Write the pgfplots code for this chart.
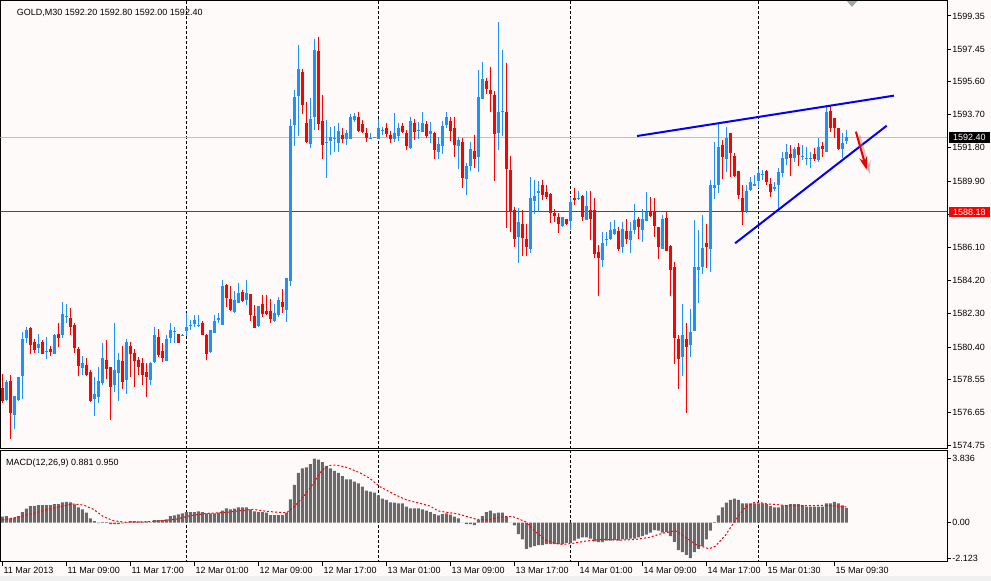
\documentclass[border=0pt]{standalone}
\usepackage{fontspec}
\setmainfont{Liberation Sans}
\usepackage{pgfplots}
\pgfplotsset{compat=1.18}
\usepackage{pgfplotstable}
\usetikzlibrary{arrows.meta}
\definecolor{bg}{RGB}{255,250,250}
\definecolor{cblue}{RGB}{30,144,255}
\definecolor{cred}{RGB}{255,0,0}
\definecolor{arrowred}{RGB}{235,0,0}
\definecolor{macdgray}{RGB}{105,105,105}
\definecolor{tline}{RGB}{0,0,255}
\definecolor{silverline}{RGB}{192,192,192}
\newcommand\lab{\fontsize{9}{10.8}\selectfont}

\pgfplotstableread{
i o h l c
0 1578.08 1578.86 1577.18 1577.34
1 1577.41 1578.52 1577.34 1578.40
2 1578.48 1578.80 1575.16 1576.65
3 1576.53 1577.62 1575.73 1577.60
4 1577.37 1578.70 1577.32 1578.67
5 1578.75 1581.27 1577.45 1580.85
6 1580.94 1581.53 1580.66 1581.38
7 1581.49 1581.57 1580.03 1580.54
8 1580.69 1580.87 1580.04 1580.24
9 1580.37 1581.15 1580.08 1580.58
10 1580.69 1580.81 1580.01 1580.03
11 1580.14 1580.96 1579.72 1580.18
12 1580.29 1580.46 1579.87 1580.14
13 1580.03 1581.13 1580.01 1581.09
14 1581.17 1581.76 1580.43 1580.94
15 1581.13 1582.98 1580.90 1582.30
16 1582.16 1582.87 1581.80 1582.20
17 1582.07 1582.62 1581.11 1581.53
18 1581.69 1581.76 1580.04 1580.37
19 1580.31 1580.43 1578.77 1579.34
20 1579.21 1579.89 1578.80 1579.47
21 1579.38 1579.76 1578.75 1578.82
22 1578.98 1579.09 1577.28 1577.32
23 1577.45 1578.67 1576.46 1577.72
24 1577.56 1579.24 1577.18 1578.48
25 1578.37 1580.62 1578.21 1579.78
26 1579.66 1580.81 1578.56 1579.15
27 1579.26 1579.28 1576.23 1578.14
28 1578.25 1581.76 1577.85 1579.09
29 1578.94 1580.08 1577.32 1579.66
30 1579.61 1580.46 1577.98 1578.42
31 1578.52 1580.88 1577.72 1580.69
32 1580.46 1580.67 1578.70 1580.00
33 1580.04 1580.27 1578.09 1579.60
34 1579.66 1579.81 1578.80 1579.24
35 1579.50 1579.75 1578.22 1578.80
36 1578.99 1579.50 1577.56 1578.66
37 1578.55 1579.56 1578.22 1579.50
38 1579.56 1581.56 1579.47 1581.09
39 1580.99 1581.41 1579.85 1579.94
40 1580.19 1580.61 1579.56 1579.75
41 1579.62 1581.09 1579.60 1580.88
42 1580.93 1581.76 1580.61 1581.37
43 1581.26 1581.53 1580.61 1581.30
44 1581.15 1581.17 1580.63 1580.65
45 1581.09 1581.13 1581.05 1581.11
46 1581.34 1582.33 1581.05 1581.53
47 1581.62 1581.95 1581.38 1581.68
48 1581.72 1582.22 1581.53 1581.95
49 1581.62 1582.22 1581.53 1581.66
50 1581.80 1581.91 1581.07 1581.11
51 1581.11 1581.13 1579.66 1580.00
52 1580.12 1581.40 1580.04 1581.38
53 1581.22 1582.26 1581.19 1581.91
54 1581.98 1582.33 1581.76 1582.04
55 1581.66 1584.24 1581.64 1583.90
56 1583.97 1583.99 1582.71 1583.19
57 1583.15 1583.90 1582.47 1582.52
58 1582.41 1583.63 1582.33 1583.09
59 1582.94 1584.05 1582.90 1583.51
60 1583.55 1583.67 1583.00 1583.06
61 1583.13 1584.24 1582.81 1583.48
62 1583.44 1583.46 1581.91 1582.24
63 1582.20 1582.81 1581.47 1581.51
64 1581.61 1582.77 1581.57 1582.75
65 1582.87 1583.38 1582.14 1582.29
66 1582.48 1583.38 1582.24 1582.29
67 1582.48 1583.13 1581.76 1581.99
68 1581.91 1582.87 1581.85 1582.37
69 1582.24 1583.29 1582.14 1583.09
70 1583.00 1583.71 1582.33 1582.67
71 1582.52 1584.37 1581.85 1584.35
72 1584.20 1593.47 1583.90 1593.05
73 1593.11 1595.11 1591.91 1594.73
74 1594.77 1597.67 1592.48 1596.30
75 1596.16 1596.30 1593.74 1594.25
76 1593.21 1594.43 1592.08 1592.12
77 1592.02 1594.64 1591.77 1593.43
78 1593.59 1598.05 1592.82 1597.40
79 1597.35 1598.17 1592.82 1593.19
80 1593.34 1594.83 1591.18 1591.98
81 1592.08 1593.40 1590.10 1592.12
82 1592.21 1593.01 1591.39 1592.40
83 1592.33 1593.05 1591.58 1592.37
84 1592.10 1593.21 1591.58 1592.77
85 1592.52 1592.92 1592.06 1592.31
86 1592.35 1592.82 1591.96 1592.63
87 1592.33 1593.74 1592.31 1593.57
88 1593.43 1593.82 1593.30 1593.62
89 1593.55 1593.87 1592.73 1592.77
90 1593.15 1593.40 1592.63 1592.71
91 1592.63 1592.92 1592.16 1592.38
92 1592.33 1592.67 1592.29 1592.37
93 1592.38 1592.44 1592.35 1592.40
94 1592.35 1593.43 1592.33 1592.92
95 1592.80 1593.01 1592.54 1592.84
96 1592.94 1593.21 1592.44 1592.59
97 1592.54 1592.79 1592.10 1592.33
98 1592.35 1593.82 1592.16 1592.63
99 1592.50 1593.21 1592.21 1592.92
100 1593.05 1593.21 1592.67 1592.73
101 1592.63 1592.82 1591.68 1591.91
102 1591.81 1593.59 1591.72 1593.32
103 1593.24 1593.47 1592.25 1592.73
104 1592.79 1593.27 1592.31 1592.83
105 1592.73 1593.84 1592.69 1593.21
106 1593.15 1593.34 1592.39 1592.50
107 1592.60 1593.27 1592.10 1592.77
108 1592.64 1592.73 1591.17 1591.68
109 1591.59 1592.41 1591.17 1592.01
110 1591.93 1593.34 1591.43 1593.06
111 1593.11 1593.84 1592.92 1593.55
112 1593.34 1593.59 1592.20 1592.79
113 1592.92 1593.59 1591.30 1591.97
114 1591.93 1592.45 1590.60 1592.24
115 1592.14 1592.39 1589.49 1590.06
116 1590.02 1590.92 1589.11 1590.77
117 1590.79 1592.16 1590.48 1591.74
118 1591.63 1592.54 1590.63 1591.17
119 1591.30 1596.26 1590.44 1594.72
120 1594.60 1596.74 1594.58 1595.75
121 1595.63 1595.78 1594.91 1595.17
122 1595.12 1596.45 1593.88 1594.89
123 1594.85 1595.06 1589.93 1592.62
124 1592.69 1598.99 1591.68 1593.84
125 1593.88 1597.41 1592.50 1593.91
126 1593.86 1596.68 1587.24 1590.60
127 1590.54 1591.36 1587.01 1588.11
128 1588.25 1588.44 1586.15 1586.59
129 1586.70 1588.38 1585.20 1587.58
130 1587.45 1588.25 1585.63 1586.63
131 1586.59 1587.43 1585.62 1586.11
132 1586.03 1590.12 1585.77 1588.94
133 1588.80 1589.97 1588.04 1589.05
134 1589.22 1589.91 1588.11 1589.34
135 1589.68 1589.98 1588.82 1589.11
136 1589.28 1589.68 1588.86 1589.01
137 1589.17 1589.19 1587.49 1588.06
138 1588.10 1588.29 1587.58 1587.91
139 1587.87 1588.10 1586.91 1587.43
140 1587.33 1587.85 1587.26 1587.83
141 1587.72 1587.74 1587.39 1587.43
142 1587.64 1589.01 1587.11 1588.73
143 1588.94 1589.49 1588.52 1588.82
144 1588.88 1589.36 1588.82 1588.92
145 1589.05 1589.11 1587.64 1587.83
146 1587.72 1589.36 1587.70 1588.48
147 1588.25 1589.36 1586.53 1587.72
148 1588.25 1588.92 1585.48 1585.73
149 1585.85 1586.25 1583.33 1585.48
150 1585.39 1587.01 1585.01 1586.38
151 1586.55 1587.01 1586.19 1586.59
152 1586.63 1587.58 1586.50 1587.11
153 1586.91 1587.68 1586.80 1587.14
154 1587.07 1587.30 1585.92 1586.02
155 1586.15 1587.58 1585.77 1587.18
156 1587.05 1587.72 1586.30 1586.59
157 1586.53 1587.58 1585.77 1587.05
158 1587.11 1588.57 1586.88 1587.68
159 1587.74 1587.87 1586.59 1587.26
160 1587.11 1588.29 1586.42 1587.72
161 1587.64 1589.28 1587.62 1588.12
162 1588.14 1588.98 1587.87 1587.91
163 1588.14 1588.92 1586.72 1587.33
164 1587.26 1587.30 1585.43 1586.15
165 1586.02 1587.95 1586.00 1587.75
166 1587.77 1588.15 1585.88 1585.92
167 1586.19 1586.24 1583.33 1584.81
168 1585.00 1585.29 1579.43 1580.90
169 1580.85 1581.09 1577.98 1579.72
170 1579.85 1582.87 1578.75 1581.09
171 1580.85 1581.76 1576.61 1580.43
172 1580.56 1582.58 1579.85 1581.27
173 1581.34 1587.68 1581.32 1584.99
174 1584.81 1587.10 1582.94 1584.99
175 1585.00 1587.96 1584.59 1586.07
176 1586.36 1587.45 1584.91 1586.15
177 1586.04 1589.97 1584.72 1589.68
178 1589.53 1592.14 1588.90 1589.68
179 1589.70 1593.21 1589.20 1591.87
180 1591.97 1592.26 1590.00 1591.30
181 1591.17 1592.98 1590.44 1592.35
182 1592.64 1592.67 1590.12 1591.53
183 1591.34 1591.49 1590.16 1590.21
184 1590.48 1590.50 1588.86 1589.11
185 1588.94 1589.68 1587.39 1588.15
186 1588.21 1589.68 1588.06 1589.34
187 1589.39 1590.12 1589.36 1589.83
188 1589.66 1590.25 1589.62 1589.72
189 1589.93 1590.58 1589.49 1590.39
190 1590.25 1590.53 1589.96 1590.32
191 1590.48 1590.53 1589.68 1589.87
192 1589.75 1590.06 1589.01 1589.29
193 1589.45 1589.87 1589.33 1589.56
194 1589.71 1590.63 1588.15 1590.40
195 1590.40 1591.58 1590.15 1591.20
196 1591.16 1592.00 1590.82 1591.55
197 1591.43 1591.97 1590.21 1591.20
198 1591.24 1591.87 1590.97 1591.74
199 1591.85 1592.06 1590.78 1591.39
200 1591.30 1591.97 1591.11 1591.34
201 1591.18 1591.87 1590.82 1591.22
202 1591.18 1591.58 1590.63 1591.22
203 1591.43 1591.81 1591.05 1591.16
204 1591.11 1592.39 1591.01 1591.87
205 1591.93 1592.12 1591.30 1591.74
206 1591.58 1594.16 1591.56 1593.87
207 1593.91 1594.26 1592.73 1592.96
208 1593.49 1593.53 1592.35 1592.92
209 1592.92 1592.96 1591.68 1591.74
210 1591.77 1592.63 1591.20 1592.06
211 1592.20 1592.80 1592.00 1592.40
}\candles

\pgfplotstableread{
i m
0 0.36
1 0.40
2 0.26
3 0.30
4 0.40
5 0.64
6 0.84
7 1.00
8 1.00
9 1.06
10 1.06
11 1.06
12 1.06
13 1.12
14 1.12
15 1.22
16 1.24
17 1.22
18 1.10
19 0.92
20 0.80
21 0.60
22 0.26
23 0.10
24 -0.02
25 0.04
26 0.04
27 -0.08
28 -0.08
29 -0.08
30 -0.04
31 0.04
32 0.10
33 0.10
34 0.08
35 0.06
36 0.08
37 0.02
38 0.16
39 0.16
40 0.16
41 0.20
42 0.40
43 0.44
44 0.50
45 0.56
46 0.64
47 0.64
48 0.64
49 0.68
50 0.64
51 0.56
52 0.56
53 0.56
54 0.60
55 0.72
56 0.86
57 0.80
58 0.84
59 0.92
60 0.92
61 0.92
62 0.80
63 0.68
64 0.64
65 0.64
66 0.60
67 0.46
68 0.46
69 0.46
70 0.46
71 0.60
72 1.40
73 2.26
74 2.99
75 3.25
76 3.31
77 3.51
78 3.84
79 3.78
80 3.63
81 3.41
82 3.25
83 3.11
84 2.99
85 2.79
86 2.59
87 2.59
88 2.46
89 2.36
90 2.16
91 1.92
92 1.86
93 1.80
94 1.64
95 1.44
96 1.36
97 1.22
98 1.20
99 1.16
100 1.16
101 0.96
102 0.86
103 0.86
104 0.86
105 0.80
106 0.72
107 0.64
108 0.52
109 0.44
110 0.52
111 0.56
112 0.48
113 0.36
114 0.26
115 0.01
116 -0.08
117 -0.08
118 -0.14
119 0.16
120 0.40
121 0.64
122 0.72
123 0.56
124 0.60
125 0.60
126 0.36
127 0.01
128 -0.16
129 -0.68
130 -1.00
131 -1.56
132 -1.48
133 -1.40
134 -1.34
135 -1.34
136 -1.28
137 -1.28
138 -1.28
139 -1.28
140 -1.28
141 -1.20
142 -1.20
143 -1.08
144 -0.96
145 -0.88
146 -0.88
147 -0.96
148 -1.12
149 -1.16
150 -1.16
151 -1.08
152 -1.08
153 -1.04
154 -1.08
155 -1.00
156 -1.00
157 -0.96
158 -0.96
159 -0.88
160 -0.80
161 -0.72
162 -0.60
163 -0.44
164 -0.48
165 -0.60
166 -0.56
167 -0.80
168 -1.14
169 -1.64
170 -1.76
171 -1.92
172 -2.12
173 -1.76
174 -1.56
175 -1.40
176 -1.00
177 -0.48
178 0.04
179 0.44
180 0.92
181 1.20
182 1.36
183 1.44
184 1.36
185 1.16
186 1.16
187 1.16
188 1.16
189 1.16
190 1.16
191 1.12
192 1.00
193 0.92
194 0.92
195 1.04
196 1.06
197 1.12
198 1.12
199 1.12
200 1.06
201 0.96
202 0.96
203 0.96
204 0.96
205 0.96
206 1.16
207 1.16
208 1.24
209 1.16
210 1.04
211 0.88
}\macd

\pgfplotsset{
  wickstyle/.style={only marks, mark=*, mark size=0pt, mark options={draw=none, fill=none}, forget plot,
    error bars/y dir=minus, error bars/y explicit, error bars/error mark=none,
    error bars/error bar style={draw=#1, line width=1pt}},
  bodystyle/.style={only marks, mark=*, mark size=0pt, mark options={draw=none, fill=none}, forget plot,
    error bars/y dir=minus, error bars/y explicit, error bars/error mark=none,
    error bars/error bar style={draw=#1, line width=3pt}},
  sepline/.style={black, line width=1pt, dash pattern=on 3pt off 2pt, forget plot},
}

\begin{document}
\begin{tikzpicture}[x=1pt,y=1pt]
\fill[bg] (0pt,0pt) rectangle (991pt,-581pt);
\fill[black!6] (0pt,-576pt) rectangle (991pt,-581pt);
\path[use as bounding box] (0pt,0pt) rectangle (991pt,-581pt);

% ---------------- main price panel ----------------
\begin{axis}[
  at={(0.5pt,-0.5pt)}, anchor=north west,
  scale only axis, width=946.7pt, height=448pt,
  xmin=-0.45, xmax=236.225, ymin=1574.593, ymax=1600.237,
  axis line style={line width=1pt, black},
  xtick=\empty,
  ytick={1599.35,1597.45,1595.60,1593.70,1591.80,1589.90,1588.00,1586.10,1584.20,1582.30,1580.40,1578.55,1576.65,1574.75},
  yticklabels={1599.35,1597.45,1595.60,1593.70,1591.80,1589.90,,1586.10,1584.20,1582.30,1580.40,1578.55,1576.65,1574.75},
  scaled y ticks=false,
  ytick pos=right, yticklabel pos=right,
  tick align=outside, major tick length=4pt,
  tick style={black, line width=1pt},
  yticklabel style={font=\lab, anchor=west, inner sep=0pt, xshift=1pt},
  clip=true,
]
% day separators
\addplot[sepline] coordinates {(46,1570) (46,1602)};
\addplot[sepline] coordinates {(94,1570) (94,1602)};
\addplot[sepline] coordinates {(142,1570) (142,1602)};
\addplot[sepline] coordinates {(189,1570) (189,1602)};
% price lines
\addplot[silverline, line width=1pt, forget plot] coordinates {(-1,1592.40) (240,1592.40)};
\addplot[cred, line width=1pt, forget plot] coordinates {(-1,1588.18) (240,1588.18)};
% candles: wicks
\addplot[restrict expr to domain={\thisrow{c}-\thisrow{o}}{0:1000}, wickstyle=cblue]
  table[x=i, y=h, y error minus expr=\thisrow{h}-\thisrow{l}] {\candles};
\addplot[restrict expr to domain={\thisrow{c}-\thisrow{o}}{-1000:-0.0001}, wickstyle=cred]
  table[x=i, y=h, y error minus expr=\thisrow{h}-\thisrow{l}] {\candles};
% candles: bodies
\addplot[restrict expr to domain={\thisrow{c}-\thisrow{o}}{0:1000}, bodystyle=cblue]
  table[x=i, y=c, y error minus expr=\thisrow{c}-\thisrow{o}+0.02] {\candles};
\addplot[restrict expr to domain={\thisrow{c}-\thisrow{o}}{-1000:-0.0001}, bodystyle=cred]
  table[x=i, y=o, y error minus expr=\thisrow{o}-\thisrow{c}] {\candles};
% trend lines
\addplot[tline, line width=2pt, forget plot] coordinates {(158.7,1592.48) (222.9,1594.79)};
\addplot[tline, line width=2pt, forget plot] coordinates {(183.2,1586.34) (221.1,1593.07)};
% arrow with shadow
\addplot[black!45, opacity=0.45, line width=3pt, forget plot, -{Stealth[length=13pt,width=9pt]}]
  coordinates {(214.2,1592.50) (216.9,1590.30)};
\addplot[arrowred, line width=2pt, forget plot, -{Stealth[length=13pt,width=8pt]}]
  coordinates {(213.4,1592.73) (216.1,1590.54)};
\end{axis}

% ---------------- MACD panel ----------------
\begin{axis}[
  at={(0.5pt,-450.5pt)}, anchor=north west,
  scale only axis, width=946.7pt, height=111.2pt,
  xmin=-0.45, xmax=236.225, ymin=-2.335, ymax=4.323,
  axis line style={line width=1pt, black},
  xtick={0,16,32,48,64,80,96,112,128,144,160,176,191,208},
  xticklabels={11 Mar 2013,11 Mar 09:00,11 Mar 17:00,12 Mar 01:00,12 Mar 09:00,12 Mar 17:00,13 Mar 01:00,13 Mar 09:00,13 Mar 17:00,14 Mar 01:00,14 Mar 09:00,14 Mar 17:00,15 Mar 01:30,15 Mar 09:30},
  xtick pos=bottom, xticklabel pos=bottom,
  ytick={-2.123,0,3.836}, yticklabels={-2.123,0.00,3.836},
  ytick pos=right, yticklabel pos=right,
  tick align=outside, major tick length=4pt,
  tick style={black, line width=1pt},
  xticklabel style={font=\lab, anchor=north west, inner sep=0pt, xshift=1pt, yshift=-1.5pt},
  yticklabel style={font=\lab, anchor=west, inner sep=0pt, xshift=1pt},
  clip=true,
]
\addplot[sepline] coordinates {(46,-3) (46,5)};
\addplot[sepline] coordinates {(94,-3) (94,5)};
\addplot[sepline] coordinates {(142,-3) (142,5)};
\addplot[sepline] coordinates {(189,-3) (189,5)};
\addplot[ybar, bar width=3pt, bar shift=0pt, fill=macdgray, draw=none, forget plot]
  table[x=i, y=m] {\macd};
\addplot[cred, line width=1pt, dash pattern=on 2pt off 2pt, forget plot] coordinates {
(0,0.16) (4.4,0.36) (9.4,0.66) (13.6,0.92) (17.8,1.12) (20.3,1.06) (22.8,0.80)
(25.3,0.36) (27.8,0.12) (30.3,0.04) (34.4,0.04) (39.4,0.10) (43.6,0.22) (46.9,0.42)
(51.1,0.56) (56.1,0.62) (59.4,0.72) (62.8,0.80) (66.1,0.68) (69.4,0.62) (71.1,0.60)
(72.8,0.92) (75.3,1.56) (77.8,2.36) (79.9,3.15) (81.9,3.43) (83.6,3.45) (86.1,3.31)
(89.4,2.99) (91.9,2.65) (94.4,2.16) (97.8,1.72) (101.1,1.36) (104.4,1.16) (106.9,1.00)
(109,0.70) (114,0.52) (118.3,0.22) (121,0.16) (125.3,0.36) (127.7,0.36) (130.8,0.06)
(133.3,-0.54) (135.8,-1.04) (138.3,-1.24) (140,-1.30) (142.5,-1.24) (145.8,-1.10)
(150,-1.00) (155,-1.04) (158.3,-1.00) (161.7,-0.88) (165,-0.64) (168.3,-0.48)
(170.8,-0.88) (173.4,-1.30) (176.7,-1.56) (178.3,-1.40) (180.8,-0.74) (183.3,0.16)
(185.8,0.96) (187.9,1.20) (189,1.22) (191.3,1.12) (193.8,1.08) (197.2,1.00)
(201.4,1.02) (205.7,1.04) (211,0.95)};
\end{axis}

% texts and chart widgets
\node[anchor=base west, inner sep=0pt, font=\lab] at (16.7pt,-15.8pt) {GOLD,M30 1592.20 1592.80 1592.00 1592.40};
\node[anchor=base west, inner sep=0pt, font=\lab] at (6pt,-465pt) {MACD(12,26,9) 0.881 0.950};
\node[anchor=west, fill=black, text=white, font=\lab, inner xsep=4pt, inner ysep=0pt, minimum height=11.5pt] at (949pt,-137.6pt) {1592.40};
\node[anchor=west, fill=cred, text=white, font=\lab, inner xsep=4pt, inner ysep=0pt, minimum height=10.5pt] at (949pt,-212pt) {1588.18};
\fill[black!35] (847pt,-1.2pt) -- (857pt,-1.2pt) -- (852pt,-7pt) -- cycle;
\end{tikzpicture}
\end{document}
